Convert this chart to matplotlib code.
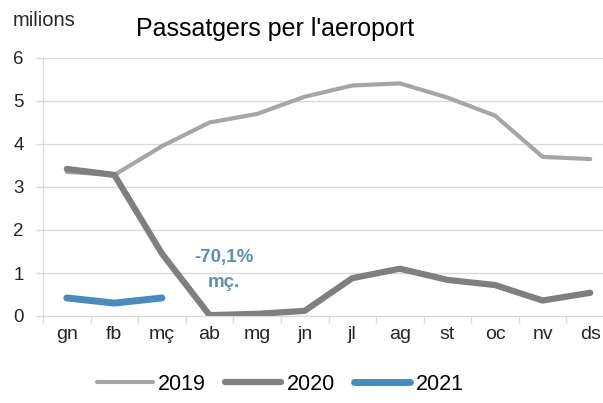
import matplotlib
matplotlib.use("Agg")
import matplotlib.pyplot as plt
from matplotlib.ticker import FixedLocator

plt.rcParams['font.family'] = ['Liberation Sans', 'DejaVu Sans']

months = ["gn", "fb", "mç", "ab", "mg", "jn", "jl", "ag", "st", "oc", "nv", "ds"]
v2019 = [3.35, 3.28, 3.95, 4.5, 4.7, 5.1, 5.36, 5.41, 5.08, 4.66, 3.7, 3.65]
v2020 = [3.42, 3.28, 1.45, 0.02, 0.05, 0.12, 0.88, 1.1, 0.84, 0.72, 0.36, 0.54]
v2021 = [0.42, 0.3, 0.42]
yticks = [0, 1, 2, 3, 4, 5, 6]

fig = plt.figure(figsize=(6.03, 4.03), dpi=100)
ax = fig.add_axes([43/603, 1-316/403, 571/603, 258/403])

x = list(range(len(months)))
ax.plot(x, v2019, color="#a6a6a6", lw=3, label="2019", solid_capstyle="round", solid_joinstyle="round")
ax.plot(x, v2020, color="#7f7f7f", lw=4.5, label="2020", solid_capstyle="round", solid_joinstyle="round")
ax.plot(x[:len(v2021)], v2021, color="#4a8bb9", lw=5, label="2021", solid_capstyle="round", solid_joinstyle="round")

ax.set_xlim(-0.5, len(months) - 0.5)
ax.set_ylim(0, 6)
ax.set_yticks(yticks)
ax.set_yticklabels([str(t) for t in yticks], fontsize=13.5, color="#262626")
ax.set_xticks(x)
ax.set_xticklabels(months, fontsize=14, color="#262626")
ax.xaxis.set_minor_locator(FixedLocator([i - 0.5 for i in range(len(months) + 1)]))
ax.tick_params(axis="x", which="major", length=0, pad=7)
ax.tick_params(axis="x", which="minor", length=5, color="#d9d9d9", width=1)
ax.tick_params(axis="y", length=5, color="#d9d9d9", width=1, pad=9)

ax.grid(axis="y", color="#d9d9d9", lw=1)
ax.set_axisbelow(True)
for s in ["top", "right"]:
    ax.spines[s].set_visible(False)
for s in ["left", "bottom"]:
    ax.spines[s].set_color("#d9d9d9")

ax.text(3.3, 1.35, "-70,1%", color="#5b8fb8", fontsize=13.5, fontweight="bold", ha="center", va="center")
ax.text(3.3, 0.77, "mç.", color="#5b8fb8", fontsize=13.5, fontweight="bold", ha="center", va="center")

fig.text(13/603, 1-20/403, "milions", fontsize=14.5, color="#262626", va="center", ha="left")
fig.text(275/603, 1-29/403, "Passatgers per l'aeroport", fontsize=18, color="#000000", va="center", ha="center")

fig.legend(loc="center", bbox_to_anchor=(280/603, 1-384/403), ncol=3, frameon=False,
           fontsize=15.5, handlelength=2.6, columnspacing=0.9, handletextpad=0.25)

fig.savefig("out.png", dpi=100)
